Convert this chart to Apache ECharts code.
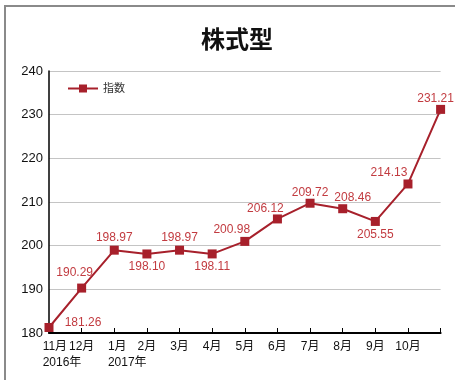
<!DOCTYPE html>
<html><head><meta charset="utf-8">
<script src="https://cdn.jsdelivr.net/npm/echarts@6/dist/echarts.min.js"></script>
<style>html,body{margin:0;padding:0;background:#fff}#c{width:455px;height:380px}</style>
</head><body><div id="c"></div>
<script>
var title = '株式型';
var seriesName = '指数';
var categories = ['11月\n2016年','12月','1月\n2017年','2月','3月','4月','5月','6月','7月','8月','9月','10月',''];
var values = [181.26,190.29,198.97,198.10,198.97,198.11,200.98,206.12,209.72,208.46,205.55,214.13,231.21];
var yTicks = {min:180, max:240, interval:10};
// label placement (style only): offsets from marker center
var labelOffsets = [[34,-5],[-7,-15],[0,-12],[0,13],[0,-12],[0,13],[-13,-12],[-12,-10],[0,-11],[10,-11],[0,13],[-19,-11],[-5,-11]];

var FONT = "'Liberation Sans', 'Noto Sans CJK JP', sans-serif";
var chart = echarts.init(document.getElementById('c'));
chart.setOption({
  animation:false,
  textStyle:{fontFamily:FONT},
  graphic:[{type:'rect',shape:{x:5,y:6,width:480,height:400},style:{fill:'none',stroke:'#8a8a8a',lineWidth:2},z:100}],
  title:{text:title,left:232,textAlign:'center',top:24,textStyle:{fontSize:24,fontWeight:'bold',color:'#111',fontFamily:FONT}},
  legend:{left:62,top:78,itemWidth:30,itemHeight:10,itemGap:10,
    textStyle:{fontSize:11,color:'#333',fontFamily:FONT},data:[seriesName]},
  grid:{left:49,right:14.4,top:71,bottom:47},
  xAxis:{type:'category',data:categories,boundaryGap:false,
    axisLine:{lineStyle:{color:'#000',width:2}},
    axisTick:{inside:true,length:5,lineStyle:{color:'#000',width:1},alignWithLabel:true},
    splitLine:{show:false},
    axisLabel:{interval:0,margin:6,fontSize:12,color:'#111',lineHeight:16,fontFamily:FONT,
      formatter:function(v){
        if(v.indexOf('\n')>=0){var p=v.split('\n');return '{y|'+p[0]+'}\n{y|'+p[1]+'}';}
        return v;
      },
      rich:{y:{align:'left',padding:[0,0,0,26],fontSize:12,color:'#111',lineHeight:16,fontFamily:FONT}}
    }},
  yAxis:{type:'value',min:yTicks.min,max:yTicks.max,interval:yTicks.interval,
    axisLine:{show:true,lineStyle:{color:'#000',width:1.5}},
    axisTick:{show:false},
    axisLabel:{fontSize:13,color:'#111',margin:6,fontFamily:FONT},
    splitLine:{lineStyle:{color:'#c4c4c4',width:1.2}}},
  series:[{
    name:seriesName,type:'line',
    data:values.map(function(v,i){
      return {value:v,label:{offset:labelOffsets[i]}};
    }),
    symbol:'rect',symbolSize:9,
    itemStyle:{color:'#a7202b'},
    lineStyle:{color:'#a7202b',width:2},
    label:{show:true,position:'inside',fontSize:12,color:'#c23b40',fontFamily:FONT,
      formatter:function(p){return p.value.toFixed(2);}}
  }]
});
</script></body></html>
